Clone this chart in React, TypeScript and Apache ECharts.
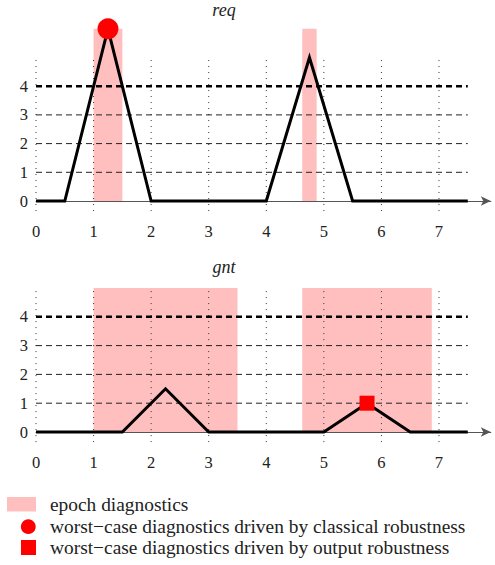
import React, { useEffect, useRef } from "react";
import * as echarts from "echarts";

const xTicks = [0, 1, 2, 3, 4, 5, 6, 7];
const yTicks = [0, 1, 2, 3, 4];
const gridLevels = [1, 2, 3];
const threshold = 4;
const lineEnd = 7.5;

const reqX = [0, 0.5, 1.25, 2, 4, 4.75, 5.5, 7.5];
const reqY = [0, 0, 6, 0, 0, 5, 0, 0];
const gntX = [0, 1.5, 2.25, 3, 5, 5.75, 6.5, 7.5];
const gntY = [0, 0, 1.5, 0, 0, 1, 0, 0];

// [start, end, top]
const reqEpochs = [
  [1, 1.5, 6],
  [4.625, 4.875, 6],
];
const gntEpochs = [
  [1, 3.5, 5],
  [4.625, 6.875, 5],
];
const reqWorstClassical = [[1.25, 6]];
const gntWorstOutput = [[5.75, 1]];

const titles = ["req", "gnt"];
const legendLabels = [
  "epoch diagnostics",
  "worst\u2212case diagnostics driven by classical robustness",
  "worst\u2212case diagnostics driven by output robustness",
];

const FONT = "Liberation Serif";
const PINK = "#ffbfbf";
const RED = "#ff0000";

export default function App() {
  const ref = useRef<HTMLDivElement>(null);

  useEffect(() => {
    if (!ref.current) return;
    const chart = echarts.init(ref.current, undefined, { renderer: "svg" });

    const panels = [
      { xs: reqX, ys: reqY, epochs: reqEpochs, top: 14.45, height: 200.9, min: -0.5, max: 6.5 },
      { xs: gntX, ys: gntY, epochs: gntEpochs, top: 273.6, height: 172.8, min: -0.5, max: 5.5 },
    ];

    const grid = panels.map((p) => ({
      left: 36,
      width: 454.8,
      top: p.top,
      height: p.height,
    }));

    const xAxis = panels.map((_, i) => ({
      type: "value",
      gridIndex: i,
      min: 0,
      max: 7.9,
      interval: 1,
      axisLine: {
        show: true,
        onZero: true,
        symbol: ["none", "arrow"],
        symbolSize: [7, 10],
        lineStyle: { color: "#555", width: 1 },
      },
      axisTick: { show: false },
      splitLine: { show: false },
      axisLabel: {
        customValues: xTicks,
        margin: 8,
        color: "#222",
        fontSize: 16.5,
        fontFamily: FONT,
      },
    }));

    const yAxis = panels.map((p, i) => ({
      type: "value",
      gridIndex: i,
      min: p.min,
      max: p.max,
      axisLine: { show: false },
      axisTick: { show: false },
      splitLine: { show: false },
      axisLabel: {
        customValues: yTicks,
        margin: 8,
        color: "#222",
        fontSize: 16.5,
        fontFamily: FONT,
      },
    }));

    const series: any[] = [];
    panels.forEach((p, i) => {
      series.push({
        type: "custom",
        xAxisIndex: i,
        yAxisIndex: i,
        clip: false,
        z: 1,
        silent: true,
        data: p.epochs,
        encode: { x: [0, 1], y: 2 },
        renderItem: (_params: any, api: any) => {
          const p0 = api.coord([api.value(0), api.value(2)]);
          const p1 = api.coord([api.value(1), 0]);
          return {
            type: "rect",
            shape: { x: p0[0], y: p0[1], width: p1[0] - p0[0], height: p1[1] - p0[1] },
            style: { fill: PINK },
          };
        },
      });
      xTicks.forEach((t) => {
        series.push({
          type: "line",
          xAxisIndex: i,
          yAxisIndex: i,
          z: 2,
          silent: true,
          symbol: "none",
          data: [
            [t, -0.35],
            [t, 5],
          ],
          lineStyle: { color: "#333", width: 1, type: [1, 5] },
        });
      });
      gridLevels.forEach((g) => {
        series.push({
          type: "line",
          xAxisIndex: i,
          yAxisIndex: i,
          z: 2,
          silent: true,
          symbol: "none",
          data: [
            [0, g],
            [lineEnd, g],
          ],
          lineStyle: { color: "#222", width: 1, type: [6, 4] },
        });
      });
      series.push({
        type: "line",
        xAxisIndex: i,
        yAxisIndex: i,
        z: 3,
        silent: true,
        symbol: "none",
        data: [
          [0, threshold],
          [lineEnd, threshold],
        ],
        lineStyle: { color: "#000", width: 2.5, type: [6, 4] },
      });
      series.push({
        type: "line",
        xAxisIndex: i,
        yAxisIndex: i,
        z: 4,
        silent: true,
        symbol: "none",
        data: p.xs.map((x, k) => [x, p.ys[k]]),
        lineStyle: { color: "#000", width: 3, join: "miter" },
      });
    });
    series.push({
      type: "scatter",
      xAxisIndex: 0,
      yAxisIndex: 0,
      z: 5,
      clip: false,
      symbol: "circle",
      symbolSize: 21,
      itemStyle: { color: RED, opacity: 1 },
      data: reqWorstClassical,
    });
    series.push({
      type: "scatter",
      xAxisIndex: 1,
      yAxisIndex: 1,
      z: 5,
      clip: false,
      symbol: "rect",
      symbolSize: 15,
      itemStyle: { color: RED, opacity: 1 },
      data: gntWorstOutput,
    });

    const txt = (text: string, x: number, y: number, size: number, italic: boolean, align: string) => ({
      type: "text",
      x,
      y,
      style: {
        text,
        fontFamily: FONT,
        fontSize: size,
        fontStyle: italic ? "italic" : "normal",
        fill: "#222",
        textAlign: align,
        textVerticalAlign: "middle",
      },
    });

    const graphic: any[] = [
      txt(titles[0], 224, 10, 18, true, "center"),
      txt(titles[1], 224, 267, 18, true, "center"),
      { type: "rect", shape: { x: 7, y: 497, width: 29, height: 14.5 }, style: { fill: PINK } },
      { type: "circle", shape: { cx: 28.3, cy: 526.7, r: 7.4 }, style: { fill: RED } },
      { type: "rect", shape: { x: 21, y: 540, width: 15, height: 15 }, style: { fill: RED } },
    ];
    const legendY = [504, 526.5, 547.5];
    legendLabels.forEach((t, k) => {
      graphic.push(txt(t, 50, legendY[k], 19.4, false, "left"));
    });

    chart.setOption({
      animation: false,
      backgroundColor: "#fff",
      grid,
      xAxis,
      yAxis,
      series,
      graphic,
    });

    return () => chart.dispose();
  }, []);

  return (
    <div
      ref={ref}
      style={{ position: "fixed", left: 0, top: 0, width: 495, height: 565 }}
    />
  );
}
